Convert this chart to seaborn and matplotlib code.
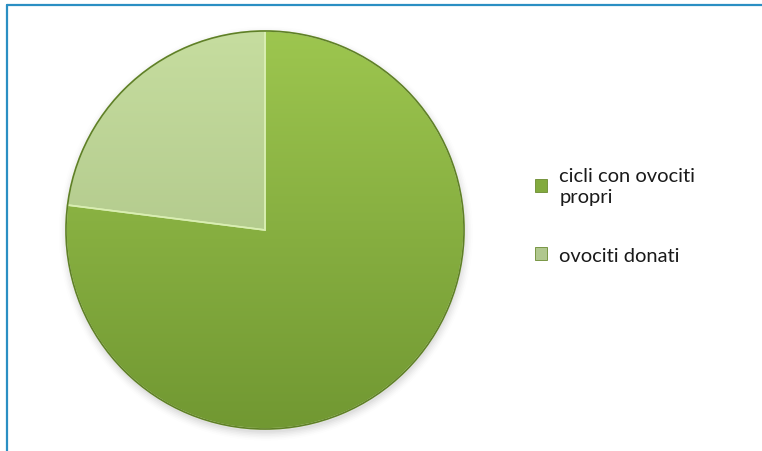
import textwrap
import numpy as np
import matplotlib
matplotlib.use("Agg")
import matplotlib.pyplot as plt
from matplotlib.colors import LinearSegmentedColormap
from matplotlib.patches import Rectangle
from matplotlib.lines import Line2D
import seaborn as sns

# Data
categories = ["cicli con ovociti propri", "ovociti donati"]
values = [77, 23]

# Colours (top / bottom of each slice's vertical shading)
top_colors = ["#9dc64f", "#c6dd9f"]
bottom_colors = ["#719832", "#a3bb7e"]
legend_colors = ["#82aa3e", "#b0c78e"]

sns.set_style("white")
plt.rcParams["font.family"] = ["Lato", "DejaVu Sans"]

W, H = 762, 452
fig = plt.figure(figsize=(W / 100, H / 100), dpi=100)
fig.patch.set_facecolor("white")

# Frame lines along the top and left edge
fig.add_artist(Line2D([7 / W, 1], [1 - 6 / H, 1 - 6 / H], color="#2b8fc3", lw=1.6))
fig.add_artist(Line2D([7 / W, 7 / W], [0, 1 - 6 / H], color="#2b8fc3", lw=1.6))

cx, cy, r = 265, 231, 199
ax = fig.add_axes([(cx - r) / W, (H - cy - r) / H, 2 * r / W, 2 * r / H])
ax.set_aspect("equal")
ax.axis("off")

# Soft drop shadow under the pie
for k, a in enumerate(np.linspace(0.05, 0.012, 6)):
    sw, _ = ax.pie([1], radius=1.0 + 0.008 * k, center=(0.004, -0.018),
                   colors=["#555555"], wedgeprops=dict(alpha=a, linewidth=0))
    for s in sw:
        s.set_clip_on(False)

wedges, _ = ax.pie(values, startangle=90, counterclock=False, radius=1.0,
                   colors=legend_colors,
                   wedgeprops=dict(linewidth=1.2, edgecolor="#d9eeb2"))

# Vertical shading inside each wedge
grad = np.linspace(1, 0, 256).reshape(-1, 1)
for w, tc, bc in zip(wedges, top_colors, bottom_colors):
    cmap = LinearSegmentedColormap.from_list("shade", [bc, tc])
    im = ax.imshow(grad, cmap=cmap, extent=(-1, 1, -1, 1),
                   origin="upper", aspect="auto", zorder=2)
    im.set_clip_path(w)
    w.set_facecolor("none")
    w.set_zorder(3)

# Darker rim around the pie
rim, _ = ax.pie([1], radius=1.0, colors=["none"],
                wedgeprops=dict(linewidth=1.2, edgecolor="#5f7f28"))
for p in rim:
    p.set_zorder(4)
    p.set_clip_on(False)
ax.set_xlim(-1, 1)
ax.set_ylim(-1, 1)

# Legend
handles = [Rectangle((0, 0), 1, 1, facecolor=c, edgecolor="#6a8a30", linewidth=0.6)
           for c in legend_colors]
labels = [textwrap.fill(c, 17) for c in categories]
leg = fig.legend(handles, labels, loc="upper left",
                 bbox_to_anchor=(517 / W, 1 - 150 / H), frameon=False,
                 fontsize=14.5, handlelength=0.6, handleheight=0.6,
                 handletextpad=0.6, labelspacing=2.1, labelcolor="#1a1a1a")
for t in leg.get_texts():
    t.set_linespacing(1.25)

fig.savefig("out.png", dpi=100, facecolor="white")
